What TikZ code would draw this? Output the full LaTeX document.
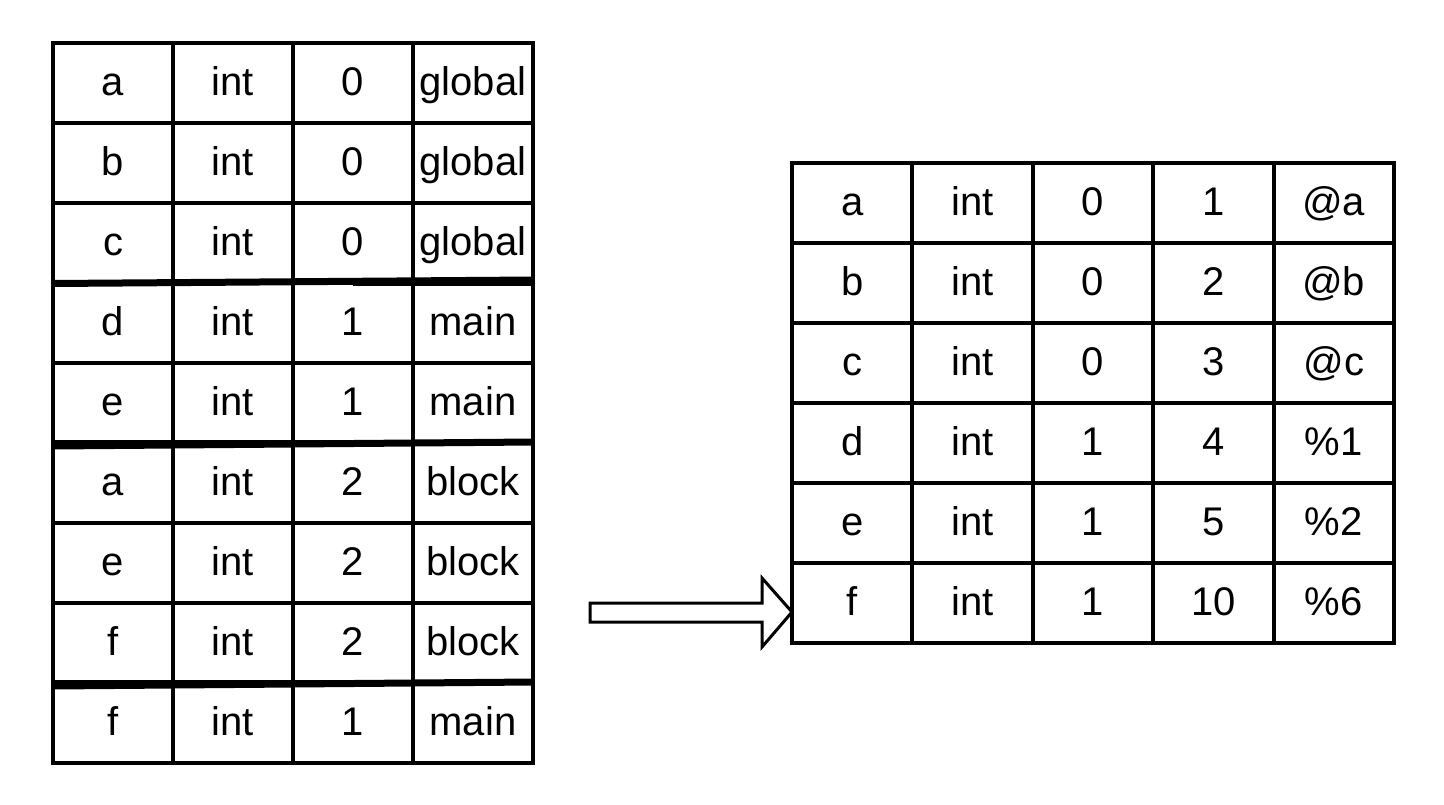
\documentclass[tikz,border=0pt]{standalone}
\usepackage{fontspec}
\setmainfont{Liberation Sans}
\usetikzlibrary{calc}
\begin{document}
\begin{tikzpicture}[x=1pt,y=-1pt,
  cellL/.style={draw, line width=4pt, minimum width=120pt, minimum height=80pt, inner sep=0pt, outer sep=0pt, text height=30pt, text depth=6pt, fill=white, font=\fontsize{40}{48}\selectfont},
  cellR/.style={cellL, minimum width=120.4pt},
  septhick/.style={line width=7pt},
  septhin/.style={line width=1.5pt},
  blockarrow/.style={draw, line width=3pt, fill=white, line join=miter}]
\useasboundingbox (0,0) rectangle (1444,804);
% left table
\foreach \r [count=\i] in {{a,int,0,global},{b,int,0,global},{c,int,0,global},{d,int,1,main},{e,int,1,main},{a,int,2,block},{e,int,2,block},{f,int,2,block},{f,int,1,main}}{
  \foreach \t [count=\j] in \r {
    \node[cellL] (L-\i-\j) at ({53+120*(\j-0.5)},{43+80*(\i-0.5)}) {\t};
  }
}
% right table
\foreach \r [count=\i] in {{a,int,0,1,@a},{b,int,0,2,@b},{c,int,0,3,@c},{d,int,1,4,\%1},{e,int,1,5,\%2},{f,int,1,10,\%6}}{
  \foreach \t [count=\j] in \r {
    \node[cellR] (R-\i-\j) at ({792+120.4*(\j-0.5)},{163+80*(\i-0.5)}) {\t};
  }
}
% scope separators
\draw[septhick] ([yshift=-0.5pt]L-3-1.south west) -- ([yshift=3pt]L-3-4.south east);
\draw[septhin] ([yshift=-2pt]L-3-3.south) -- ([yshift=-2pt]L-3-4.south east);
\draw[septhin] ([yshift=2pt]L-5-1.south west) -- ([yshift=2pt]L-5-4.south east);
\draw[septhick] ([yshift=-3pt]L-5-1.south west) -- ([yshift=1pt]L-5-4.south east);
\draw[septhin] ([yshift=2pt]L-8-1.south west) -- ([yshift=2pt]L-8-4.south east);
\draw[septhick] ([yshift=-3pt]L-8-1.south west) -- ([yshift=1pt]L-8-4.south east);
% arrow
\coordinate (tip) at ([yshift=-9pt]R-6-1.west);
\draw[blockarrow] (tip) -- ++(-30,-34) -- ++(0,25) -- ++(-172,0) -- ++(0,19) -- ++(172,0) -- ++(0,25) -- cycle;
\end{tikzpicture}
\end{document}
